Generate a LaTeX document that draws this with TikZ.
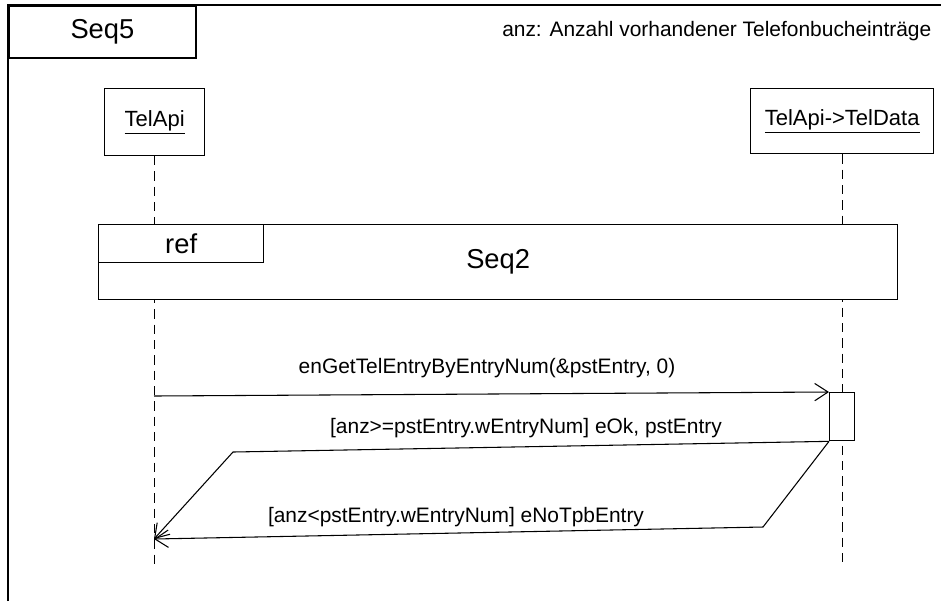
\documentclass[tikz,border=0pt]{standalone}
\usepackage{fontspec}
\setmainfont{Liberation Sans}
\usetikzlibrary{arrows.meta}
\begin{document}
\begin{tikzpicture}[x=0.75pt,y=-0.75pt,
  frameline/.style={line width=1.4pt},
  boxline/.style={line width=1pt},
  msgline/.style={line width=0.8pt},
  lifeline/.style={line width=0.8pt,dash pattern=on 7pt off 4.5pt},
  barb/.style={-{Straight Barb[length=10pt,width=13pt,line width=0.8pt]}},
  headbox/.style={draw,boxline,fill=white,inner sep=0pt,anchor=north west},
  bigtext/.style={font=\fontsize{20.5pt}{24pt}\selectfont},
  headtext/.style={font=\fontsize{16.5pt}{19pt}\selectfont},
  smalltext/.style={font=\fontsize{15.7pt}{18pt}\selectfont}]
\useasboundingbox (0,0) rectangle (941,601);
% outer frame (only top and left edges visible)
\coordinate (fbl) at (8,601);
\coordinate (ftl) at (8,5);
\coordinate (ftr) at (941,5);
\draw[frameline] (fbl) -- (ftl) -- (ftr);
\node[headbox,frameline,minimum width=140.25pt,minimum height=39pt,bigtext] (seq5) at (8,5) {Seq5};
\node[smalltext,anchor=east] (note) at (936,31) {anz: Anzahl vorhandener Telefonbucheinträge};
% lifeline heads
\node[headbox,minimum width=75pt,minimum height=50pt,headtext] (telapi) at (104,88) {\underline{TelApi}};
\node[headbox,minimum width=137.25pt,minimum height=48.75pt,headtext] (teldata) at (750,88) {\underline{TelApi->TelData}};
% lifelines
\coordinate (la) at (154,565);
\coordinate (lb) at (842,565);
\draw[lifeline] (telapi.south) -- (telapi.south |- la);
\draw[lifeline] (teldata.south) -- (teldata.south |- lb);
% ref frame
\node[headbox,minimum width=599.25pt,minimum height=56.25pt,bigtext] (reff) at (98,224) {Seq2};
\node[headbox,minimum width=123.75pt,minimum height=28.5pt,bigtext] (reftab) at (98,224) {ref};
% activation
\node[headbox,minimum width=18.75pt,minimum height=36pt] (act) at (829,392) {};
% messages
\coordinate (m1s) at (154,396);
\draw[msgline,barb] (m1s) -- (act.north west);
\node[smalltext] (m1l) at (487,368) {enGetTelEntryByEntryNum(\&pstEntry, 0)};
\coordinate (r1c) at (233,452);
\coordinate (r2c) at (763,527);
\coordinate (rend) at (154,539);
\draw[msgline,barb] (act.south west) -- (r1c) -- (rend);
\draw[msgline,barb] (act.south west) -- (r2c) -- (rend);
\node[smalltext] (r1l) at (526,428) {[anz>=pstEntry.wEntryNum] eOk, pstEntry};
\node[smalltext] (r2l) at (456,517) {[anz<pstEntry.wEntryNum] eNoTpbEntry};
\end{tikzpicture}
\end{document}
